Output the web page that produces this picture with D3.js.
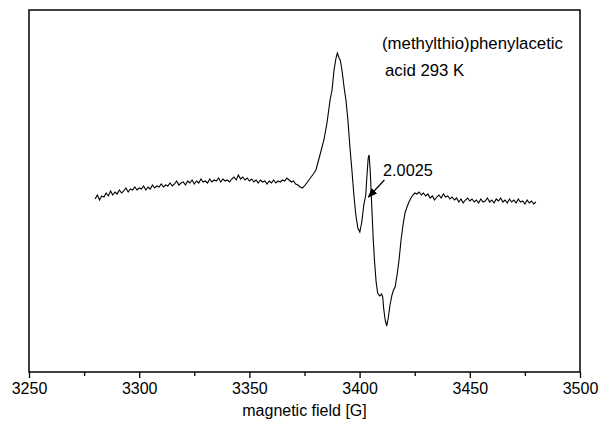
<!DOCTYPE html>
<html><head><meta charset="utf-8">
<script src="https://cdn.jsdelivr.net/npm/d3@7"></script>
<style>body{margin:0;background:#fff}svg{display:block}text{font-family:"Liberation Sans",Arial,sans-serif}</style>
</head><body><svg id="c" width="600" height="429"></svg>
<script>
// magnetic field [G]
const leftField = d3.range(3280, 3380, 1);
const leftSignal = [-8,-4,-9,-5,-6,-2,-5,0,-4,-1,-3,1,-2,0,3,-1,2,1,4,1,3,2,5,1,4,2,6,3,5,4,7,4,6,5,8,5,7,10,6,8,9,6,10,8,11,7,10,8,12,9,10,8,12,9,11,10,13,9,12,10,11,9,12,14,11,16,12,14,11,13,10,12,9,11,8,11,9,10,7,10,8,11,8,10,9,11,10,13,11,9,10,7,6,4,3,5,8,11,14,17];
const peakField = [3380.2,3382,3383.8,3385.2,3386.6,3387.5,3388.4,3389.3,3389.9,3390.7,3391.2,3392,3393,3393.8,3394.7,3395.6,3396.5,3397.4,3398.3,3399.2,3400.1,3401,3401.9,3402.8,3403.2,3403.9,3404.3,3404.8,3405.5,3406.2,3406.8,3407.5,3408.2,3409.1,3410,3410.5,3410.9,3411.6,3412.3,3413,3413.8,3414.7,3415.4,3416.1,3417,3417.9,3418.8,3419.7,3420.6,3421.5,3422.4,3423.3,3424.2,3425.1];
const peakSignal = [21,36,51,68,91,101,121,133,138,133,131,121,103,91,71,44,21,-4,-24,-37,-41,-31,-14,-4,11,33,36,21,-14,-49,-71,-91,-102,-105,-103,-106,-117,-129,-135,-127,-114,-104,-99,-96,-84,-69,-49,-34,-22,-16,-11,-7,-4,-2];
const rightField = d3.range(3426, 3481, 1);
const rightSignal = [-3,-1,-4,-2,-5,-3,-7,-5,-9,-6,-4,-7,-3,-6,-5,-8,-6,-9,-7,-11,-8,-12,-9,-7,-10,-8,-11,-9,-12,-8,-11,-10,-7,-11,-9,-12,-8,-10,-7,-11,-9,-12,-8,-11,-9,-12,-8,-11,-10,-13,-9,-12,-10,-13,-11];
const majorTicks = [3250,3300,3350,3400,3450,3500];
const minorTicks = [3275,3325,3375,3425,3475];
const xTitle = "magnetic field [G]";
const sampleName = ["(methylthio)phenylacetic", "acid 293 K"];
const gLabel = "2.0025";
const gField = 3404.0, gSignal = -6;

const field = leftField.concat(peakField, rightField);
const signal = leftSignal.concat(peakSignal, rightSignal);
const data = field.map((f,i)=>({f, s: signal[i]}));

const L=29, R=580, T=10, B=372;
const svg = d3.select("#c");
const x = d3.scaleLinear().domain([3250,3500]).range([L,R]);
const y = d3.scaleLinear().domain([-181,181]).range([B,T]);

svg.append("path").datum(data)
  .attr("fill","none").attr("stroke","#000").attr("stroke-width",1.1)
  .attr("d", d3.line().x(d=>x(d.f)).y(d=>y(d.s)));

// minor ticks
svg.append("g").attr("transform",`translate(0,${B})`)
  .call(d3.axisBottom(x).tickValues(minorTicks).tickSize(4).tickFormat(""))
  .call(g=>{g.select(".domain").remove(); g.selectAll("line").attr("stroke-width",1.3);});
// major ticks
const ax = svg.append("g").attr("transform",`translate(0,${B})`)
  .call(d3.axisBottom(x).tickValues(majorTicks).tickSize(6).tickPadding(5).tickFormat(d3.format("d")));
ax.select(".domain").remove();
ax.selectAll("line").attr("stroke-width",1.3);
ax.selectAll("text").attr("font-size","16px").attr("font-family","Liberation Sans, Arial, sans-serif").attr("fill","#000");

// frame
svg.append("rect").attr("x",L).attr("y",T).attr("width",R-L).attr("height",B-T)
  .attr("fill","none").attr("stroke","#000").attr("stroke-width",1.5);

svg.append("text").attr("x",(L+R)/2).attr("y",416).attr("text-anchor","middle")
  .attr("font-size","16px").text(xTitle);

svg.append("text").attr("x",382).attr("y",49).attr("font-size","16.8px").text(sampleName[0]);
svg.append("text").attr("x",385).attr("y",76).attr("font-size","16.8px").text(sampleName[1]);

// annotation
svg.append("defs").append("marker").attr("id","ah").attr("viewBox","0 0 10 10")
  .attr("refX",9).attr("refY",5).attr("markerWidth",8).attr("markerHeight",8).attr("orient","auto")
  .append("path").attr("d","M0,1 L10,5 L0,9 Z").attr("fill","#000");
const tipX = x(gField), tipY = y(gSignal);
svg.append("line").attr("x1",tipX+16).attr("y1",tipY-17).attr("x2",tipX).attr("y2",tipY)
  .attr("stroke","#000").attr("stroke-width",1.2).attr("marker-end","url(#ah)");
svg.append("text").attr("x",383).attr("y",176).attr("font-size","16.3px").text(gLabel);
</script></body></html>
